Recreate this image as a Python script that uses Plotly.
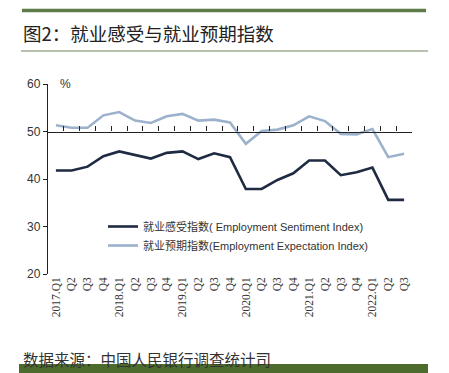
import plotly.graph_objects as go

# ---- data ----
categories = ["2017Q1","2017Q2","2017Q3","2017Q4","2018Q1","2018Q2","2018Q3","2018Q4",
              "2019Q1","2019Q2","2019Q3","2019Q4","2020Q1","2020Q2","2020Q3","2020Q4",
              "2021Q1","2021Q2","2021Q3","2021Q4","2022Q1","2022Q2","2022Q3"]
tick_labels = ["2017.Q1","Q2","Q3","Q4","2018.Q1","Q2","Q3","Q4",
               "2019.Q1","Q2","Q3","Q4","2020.Q1","Q2","Q3","Q4",
               "2021.Q1","Q2","Q3","Q4","2022.Q1","Q2","Q3"]
sentiment = [41.8, 41.8, 42.6, 44.8, 45.8, 45.0, 44.3, 45.5, 45.8, 44.2, 45.4, 44.6,
             37.9, 37.9, 39.8, 41.2, 43.9, 43.9, 40.8, 41.4, 42.4, 35.6, 35.6]
expectation = [51.3, 50.8, 50.8, 53.4, 54.1, 52.3, 51.8, 53.2, 53.7, 52.3, 52.5, 51.9,
               47.4, 50.1, 50.4, 51.3, 53.2, 52.2, 49.5, 49.4, 50.5, 44.6, 45.3]
y_ticks = [20, 30, 40, 50, 60]

OFF = 8  # page body margin
W, H = 449 - 2 * OFF, 373 - OFF
L, T, B = 48 - OFF, 84 - OFF, 99
R = W - (412 - OFF)
PW, PH = W - L - R, H - T - B

def px(x):
    return (x - OFF - L) / PW

def py(y):
    return (H - B - (y - OFF)) / PH

DARK = "#1e2b42"
LIGHT = "#9cb1cc"
GREEN = "#5e7a48"

fig = go.Figure()
fig.add_trace(go.Scatter(x=categories, y=sentiment, mode="lines",
                         name="就业感受指数( Employment Sentiment Index)",
                         line=dict(color=DARK, width=2.6)))
fig.add_trace(go.Scatter(x=categories, y=expectation, mode="lines",
                         name="就业预期指数(Employment Expectation Index)",
                         line=dict(color=LIGHT, width=2.6)))
# carrier trace for the bottom label axis
fig.add_trace(go.Scatter(x=categories, y=sentiment, mode="lines", xaxis="x2",
                         line=dict(width=0), opacity=0, showlegend=False,
                         hoverinfo="skip"))

fig.update_layout(
    width=W, height=H,
    margin=dict(l=L, r=R, t=T, b=B),
    paper_bgcolor="white", plot_bgcolor="white",
    font=dict(family="Liberation Sans, Noto Sans CJK SC", color="#333333"),
    xaxis=dict(type="category", range=[-0.5, 22.5], anchor="free", position=(50 - 20) / 40,
               showline=True, linecolor="#222222", linewidth=1.3,
               tickmode="linear", dtick=1, tickson="boundaries",
               ticks="inside", ticklen=5, tickcolor="#222222",
               showticklabels=False, showgrid=False, zeroline=False),
    xaxis2=dict(type="category", overlaying="x", matches="x", anchor="y", side="bottom",
                showline=False, ticks="", showgrid=False, zeroline=False,
                tickmode="array", tickvals=categories, ticktext=tick_labels,
                tickangle=-90,
                tickfont=dict(family="Liberation Serif", size=11.5, color="#333333")),
    yaxis=dict(range=[20, 60], tickvals=y_ticks, showline=True, linecolor="#222222",
               linewidth=1.3, ticks="outside", ticklen=4, tickcolor="#222222",
               showgrid=False, zeroline=False,
               tickfont=dict(family="Liberation Sans", size=12, color="#333333")),
    legend=dict(x=px(103), y=py(212), xanchor="left", yanchor="top",
                bgcolor="rgba(0,0,0,0)", tracegroupgap=0,
                font=dict(family="Liberation Sans, Noto Sans CJK SC", size=11, color="#333333")),
    showlegend=True,
)

annotations = [
    dict(text="图2：就业感受与就业预期指数", x=px(21), y=py(33), xref="paper", yref="paper",
         xanchor="left", yanchor="middle", showarrow=False,
         font=dict(family="Noto Sans CJK SC", size=18.5, color="#222222")),
    dict(text="%", x=px(58), y=py(84), xref="paper", yref="paper",
         xanchor="left", yanchor="middle", showarrow=False,
         font=dict(family="Liberation Sans", size=12, color="#333333")),
    dict(text="数据来源：中国人民银行调查统计司", x=px(21), y=py(359), xref="paper", yref="paper",
         xanchor="left", yanchor="middle", showarrow=False,
         font=dict(family="Noto Sans CJK SC", size=15.5, color="#333333")),
]
fig.update_layout(annotations=annotations)

shapes = [
    dict(type="line", xref="paper", yref="paper", x0=px(22), x1=px(426), y0=py(10.5), y1=py(10.5),
         line=dict(color=GREEN, width=3.5)),
    dict(type="line", xref="paper", yref="paper", x0=px(21), x1=px(428), y0=py(51), y1=py(51),
         line=dict(color="#6f8560", width=1)),
    dict(type="rect", xref="paper", yref="paper", x0=px(19), x1=px(428), y0=py(364), y1=py(373),
         line=dict(width=0), fillcolor="#4d6b2c", layer="above"),
]
fig.update_layout(shapes=shapes)

fig.write_html("out.html")
